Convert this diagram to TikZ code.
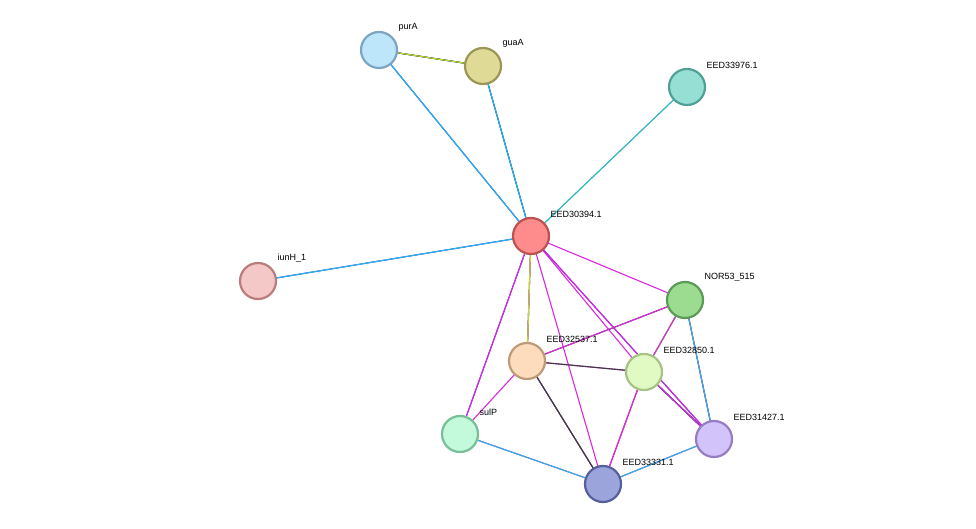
\documentclass[tikz,border=0pt]{standalone}
\usepackage{fontspec}
\setmainfont{Liberation Sans}
\usetikzlibrary{calc}
\definecolor{cg}{RGB}{40,200,40}
\definecolor{cb}{RGB}{40,40,240}
\definecolor{ck}{RGB}{60,60,60}
\definecolor{cy}{RGB}{190,220,40}
\definecolor{cc}{RGB}{40,180,230}
\definecolor{cm}{RGB}{220,40,220}
\newcommand{\myedge}[3]{%
  \foreach \c [count=\i] in {#3} {
    \path let \p1=($(#2)-(#1)$), \n1={atan2(\y1,\x1)} in
      [draw=\c, line width=1.1pt, shift={(\n1+90:{(\i-1)*2.2pt})}] (#1) -- (#2);
  }}
\tikzset{n/.style={circle, minimum size=36pt, line width=2.2pt, inner sep=0pt},
  lb/.style={font=\fontsize{9}{10}\selectfont, anchor=south west}}
\begin{document}
\begin{tikzpicture}[x=1pt,y=-1pt]
\useasboundingbox (0,0) rectangle (976,529);
\coordinate (purA) at (379,50);
\coordinate (guaA) at (483,66);
\coordinate (e76) at (687,87);
\coordinate (e94) at (531,236);
\coordinate (iunH) at (258,281);
\coordinate (nor) at (685,300);
\coordinate (e37) at (527,361);
\coordinate (e50) at (644,372);
\coordinate (sulP) at (460,434);
\coordinate (e27) at (714,439);
\coordinate (e31) at (603,484);
\myedge{purA}{guaA}{cg,cb,ck,cy}
\myedge{purA}{e94}{cb,cc}
\myedge{guaA}{e94}{cg,cb,cc}
\myedge{e76}{e94}{cy,cc}
\myedge{iunH}{e94}{cb,cc}
\myedge{e94}{nor}{cm}
\myedge{e94}{e37}{ck,cm,cy}
\myedge{e94}{e50}{cm}
\myedge{e94}{e27}{cb,cm}
\myedge{e94}{sulP}{cb,cm}
\myedge{e94}{e31}{cm}
\myedge{nor}{e37}{ck,cm}
\myedge{nor}{e50}{cg,cc,cy,cm}
\myedge{nor}{e27}{ck,cm,cc}
\myedge{e37}{e50}{cm,ck}
\myedge{e37}{sulP}{cm}
\myedge{e37}{e31}{cy,cc,cm,ck}
\myedge{e50}{e31}{cy,cm,cm}
\myedge{e50}{e27}{cy,cc,cb,ck,cm}
\myedge{sulP}{e31}{cm,cc}
\myedge{e27}{e31}{cm,cc}
\node[n, fill={rgb,255:red,190;green,230;blue,250}, draw={rgb,255:red,125;green,165;blue,195}] (npurA) at (purA) {};
\node[n, fill={rgb,255:red,223;green,219;blue,150}, draw={rgb,255:red,155;green,150;blue,85}] (nguaA) at (guaA) {};
\node[n, fill={rgb,255:red,150;green,223;blue,213}, draw={rgb,255:red,80;green,160;blue,150}] (n76) at (e76) {};
\node[n, fill={rgb,255:red,255;green,140;blue,140}, draw={rgb,255:red,190;green,80;blue,80}] (n94) at (e94) {};
\node[n, fill={rgb,255:red,245;green,200;blue,200}, draw={rgb,255:red,185;green,125;blue,125}] (niunH) at (iunH) {};
\node[n, fill={rgb,255:red,155;green,220;blue,145}, draw={rgb,255:red,90;green,155;blue,85}] (nnor) at (nor) {};
\node[n, fill={rgb,255:red,253;green,220;blue,190}, draw={rgb,255:red,190;green,155;blue,120}] (n37) at (e37) {};
\node[n, fill={rgb,255:red,225;green,250;blue,195}, draw={rgb,255:red,165;green,195;blue,130}] (n50) at (e50) {};
\node[n, fill={rgb,255:red,195;green,250;blue,220}, draw={rgb,255:red,120;green,190;blue,150}] (nsulP) at (sulP) {};
\node[n, fill={rgb,255:red,210;green,195;blue,250}, draw={rgb,255:red,150;green,125;blue,195}] (n27) at (e27) {};
\node[n, fill={rgb,255:red,155;green,165;blue,220}, draw={rgb,255:red,85;green,95;blue,155}] (n31) at (e31) {};
\node[lb] at (395,35) {purA};
\node[lb] at (499,51) {guaA};
\node[lb] at (703,72) {EED33976.1};
\node[lb] at (547,221) {EED30394.1};
\node[lb] at (274,266) {iunH\_1};
\node[lb] at (701,285) {NOR53\_515};
\node[lb] at (543,346) {EED32537.1};
\node[lb] at (660,357) {EED32850.1};
\node[lb] at (476,419) {sulP};
\node[lb] at (730,424) {EED31427.1};
\node[lb] at (619,469) {EED33331.1};
\end{tikzpicture}
\end{document}
